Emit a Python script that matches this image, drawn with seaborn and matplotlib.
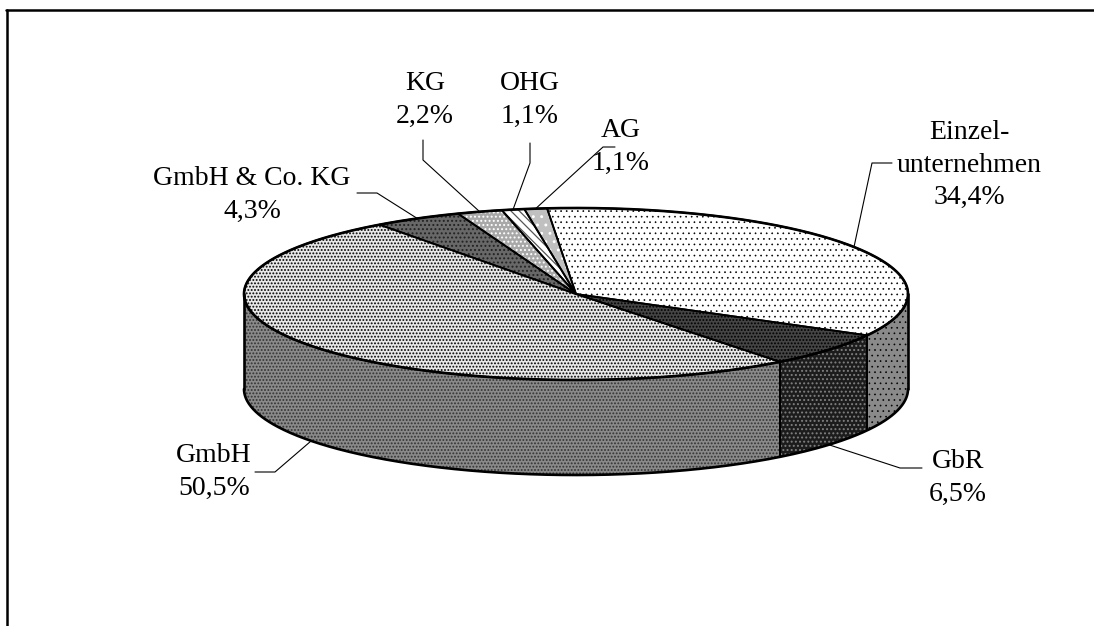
import numpy as np
import matplotlib
matplotlib.use("Agg")
import matplotlib.pyplot as plt
from matplotlib.patches import Polygon
import seaborn as sns

# Legal forms and their shares (percent)
forms = ["Einzel-\nunternehmen", "GbR", "GmbH", "GmbH & Co. KG", "KG", "OHG", "AG"]
shares = [34.4, 6.5, 50.5, 4.3, 2.2, 1.1, 1.1]

# Fill styles per slice: top face, top hatch colour, hatch, side face, side hatch colour, side hatch
top_colors = ["#ffffff", "#454545", "#e8e8e8", "#686868", "#a8a8a8", "#ffffff", "#c0c0c0"]
top_hatch_colors = ["#000000", "#000000", "#000000", "#222222", "#ffffff", "#555555", "#ffffff"]
top_hatches = ["...", ".....", ".....", "....", "....", "\\\\\\\\", ".."]
top_hatch_widths = [0.45, 0.9, 0.9, 0.9, 0.9, 0.9, 0.9]
side_colors = ["#8a8a8a", "#1c1c1c", "#8a8a8a", "#505050", "#707070", "#b0b0b0", "#909090"]
side_hatch_colors = ["#000000", "#808080", "#333333", "#222222", "#ffffff", "#555555", "#ffffff"]
side_hatches = ["...", "....", ".....", "....", "....", "\\\\\\\\", ".."]
side_hatch_widths = [0.45, 0.9, 0.9, 0.9, 0.9, 0.9, 0.9]

# Label anchor layout (pixel space): label centre, leader elbow, leader end
label_pos = [(969, 165), (958, 478), (214, 472), (252, 195), (425, 100), (530, 100), (621, 147)]
leader_elbow = [(872, 163), (900, 468), (275, 472), (377, 193), (423, 160), (530, 163), (603, 147)]
leader_end = [(892, 163), (922, 468), (255, 472), (357, 193), (423, 140), (530, 143), (615, 147)]

sns.set_theme(style="white")
plt.rcParams["font.family"] = ["Liberation Serif", "DejaVu Serif"]

W, H = 1094, 626
fig = plt.figure(figsize=(W / 100, H / 100), dpi=100)
ax = fig.add_axes([0, 0, 1, 1])
ax.set_xlim(0, W)
ax.set_ylim(H, 0)
ax.axis("off")

# Ellipse geometry of the tilted disc
cx, cy, a, b, depth = 576, 294, 332, 86, 95
start_angle = 95.0

vals = np.array(shares, dtype=float)
spans = vals / vals.sum() * 360.0
ends = start_angle - np.cumsum(spans)
starts = ends + spans


def rim(t_deg, dz=0.0):
    t = np.radians(t_deg)
    return cx + a * np.cos(t), cy - b * np.sin(t) + dz


def hatched(pts, face, hcolor, hatch, hwidth, z):
    with plt.rc_context({"hatch.linewidth": hwidth}):
        patch = Polygon(pts, closed=True, facecolor=face, edgecolor=hcolor,
                        hatch=hatch, lw=0, zorder=z)
    ax.add_patch(patch)


# side walls (front half only)
for i in range(len(vals)):
    ts = np.linspace(starts[i], ends[i], 600)
    front = np.sin(np.radians(ts)) <= 1e-9
    if not front.any():
        continue
    idx = np.where(front)[0]
    runs = np.split(idx, np.where(np.diff(idx) > 1)[0] + 1)
    for r in runs:
        tr = ts[r]
        xt, yt = rim(tr)
        xb, yb = rim(tr[::-1], depth)
        pts = np.column_stack([np.r_[xt, xb], np.r_[yt, yb]])
        hatched(pts, side_colors[i], side_hatch_colors[i], side_hatches[i],
                side_hatch_widths[i], 1)
        # vertical edges where the slice boundary lies in front
        for tb in (starts[i], ends[i]):
            if np.sin(np.radians(tb)) < -1e-6:
                xe, ye = rim(tb)
                ax.plot([xe, xe], [ye, ye + depth], color="black", lw=1.3, zorder=3)

# top faces
for i in range(len(vals)):
    ts = np.linspace(starts[i], ends[i], 300)
    xt, yt = rim(ts)
    pts = np.column_stack([np.r_[cx, xt], np.r_[cy, yt]])
    hatched(pts, top_colors[i], top_hatch_colors[i], top_hatches[i],
            top_hatch_widths[i], 2)
    ax.add_patch(Polygon(pts, closed=True, facecolor="none",
                         edgecolor="black", lw=1.3, zorder=3))

# outer outlines
tt = np.linspace(0, 360, 720)
ax.plot(*rim(tt), color="black", lw=1.9, zorder=4)
tf = np.linspace(-180, 0, 400)
ax.plot(*rim(tf, depth), color="black", lw=1.9, zorder=4)
for te in (0, 180):
    xe, ye = rim(te)
    ax.plot([xe, xe], [ye, ye + depth], color="black", lw=1.9, zorder=4)

# labels with leader lines
for i in range(len(vals)):
    mid = starts[i] - spans[i] / 2
    front = np.sin(np.radians(mid)) < 0
    px, py = rim(mid, depth if front else 0.0)
    ex, ey = leader_elbow[i]
    lx, ly = leader_end[i]
    ax.plot([px, ex, lx], [py, ey, ly], color="black", lw=0.8, zorder=5)
    pct = f"{shares[i]:.1f}".replace(".", ",") + "%"
    ax.text(label_pos[i][0], label_pos[i][1], f"{forms[i]}\n{pct}",
            ha="center", va="center", multialignment="center",
            fontsize=20, linespacing=1.38, color="black", zorder=6)

# chart frame
ax.plot([6, W], [10, 10], color="black", lw=1.8, zorder=7)
ax.plot([7, 7], [10, H], color="black", lw=1.8, zorder=7)

fig.savefig("out.png", dpi=100, facecolor="white")
